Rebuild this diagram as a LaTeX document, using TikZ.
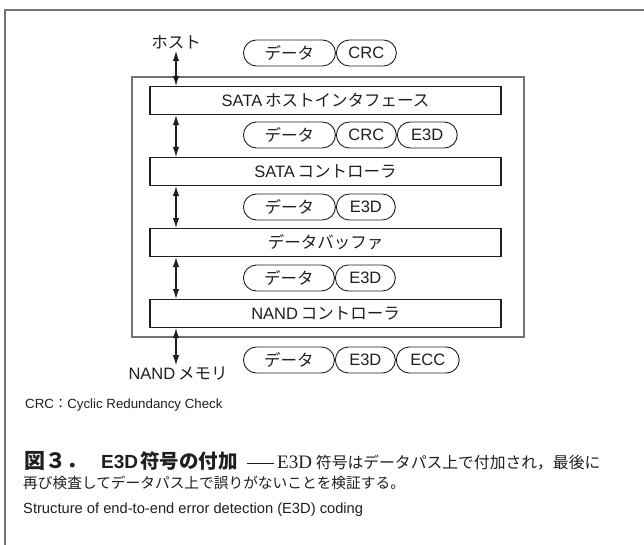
\documentclass[tikz,border=0pt]{standalone}
\usepackage{fontspec}
\setmainfont{Liberation Sans}
\newfontfamily\jp{Noto Sans CJK JP}
\newfontfamily\srf{Liberation Serif}
\usetikzlibrary{shapes.misc,arrows.meta}
\definecolor{framegray}{gray}{0.45}
\definecolor{inkc}{gray}{0.12}
\begin{document}
\begin{tikzpicture}[x=1pt,y=-1pt,
  lbl/.style={font=\fontsize{16.5}{17}\selectfont, inner sep=0pt, text=inkc},
  pill/.style={draw=inkc, rounded rectangle, minimum height=26pt, inner xsep=0pt, inner ysep=0pt,
     line width=0.9pt, anchor=west, font=\fontsize{16.5}{17}\selectfont, text=inkc},
  stagebox/.style={draw=inkc, rectangle, minimum width=351pt, minimum height=28pt, inner sep=0pt,
     line width=1.1pt, anchor=north, font=\fontsize{16.5}{17}\selectfont, text=inkc},
  dbl/.style={{Latex[length=10pt,width=6.5pt]}-{Latex[length=10pt,width=6.5pt]}, line width=1.2pt, draw=inkc},
  capt/.style={anchor=west, inner sep=0pt, text=inkc}
]
\useasboundingbox (0,0) rectangle (644,545);
% outer frame (top and left edges)
\draw[framegray, line width=1.2pt] (5,545) -- (5,10) -- (644,10);
% device frame
\draw[framegray, line width=1.1pt] (132,77) rectangle (524,337);

% labels at ends
\node[lbl] (host) at (176,42) {\jp ホスト};
\node[lbl] (nand) at (178,374) {NAND\,{\jp メモリ}};

% stages
\node[stagebox] (b1) at (325.5,86) {SATA\,{\jp ホストインタフェース}};
\node[stagebox] (b2) at (325.5,157) {SATA\,{\jp コントローラ}};
\node[stagebox] (b3) at (325.5,228) {\jp データバッファ};
\node[stagebox] (b4) at (325.5,299) {NAND\,{\jp コントローラ}};

% connectors
\draw[dbl] ([yshift=-2pt]host.south) -- (host.south |- b1.north);
\draw[dbl] (b1.south -| host) -- (b2.north -| host);
\draw[dbl] (b2.south -| host) -- (b3.north -| host);
\draw[dbl] (b3.south -| host) -- (b4.north -| host);
\draw[dbl] (b4.south -| host) -- ([yshift=2pt]host |- nand.north);

% data frames
\node[pill, minimum width=92pt] (r1a) at (243,53) {\jp データ};
\node[pill, minimum width=60pt] (r1b) at (r1a.east) {CRC};

\node[pill, minimum width=92pt] (r2a) at (243,135) {\jp データ};
\node[pill, minimum width=60pt] (r2b) at (r2a.east) {CRC};
\node[pill, minimum width=60pt] (r2c) at (r2b.east) {E3D};

\node[pill, minimum width=92pt] (r3a) at (243,207) {\jp データ};
\node[pill, minimum width=59pt] (r3b) at (r3a.east) {E3D};

\node[pill, minimum width=91pt] (r4a) at (243,278) {\jp データ};
\node[pill, minimum width=60pt] (r4b) at (r4a.east) {E3D};

\node[pill, minimum width=91pt] (r5a) at (243,360) {\jp データ};
\node[pill, minimum width=60pt] (r5b) at (r5a.east) {E3D};
\node[pill, minimum width=63pt] (r5c) at (r5b.east) {ECC};

% notes and caption
\node[capt, font=\fontsize{13.3}{14}\selectfont] (note) at (25,405) {CRC{\jp ：}Cyclic Redundancy Check};
\node[capt] (cap1) at (24,461)
  {{\fontsize{21}{21}\selectfont\jp\bfseries 図３．}\hspace{14pt}{\fontsize{19}{19}\selectfont\bfseries E3D}\hspace{2pt}{\fontsize{19.5}{19.5}\selectfont\jp\bfseries 符号の付加}\hspace{9.5pt}\rule[5pt]{27pt}{0.9pt}\hspace{3pt}{\fontsize{19}{19}\selectfont\srf E3D}\hspace{4pt}{\fontsize{15.8}{16}\selectfont\jp 符号はデータパス上で付加され，最後に}};
\node[capt, font=\fontsize{14.7}{16}\selectfont] (cap2) at (23,483)
  {\jp 再び検査してデータパス上で誤りがないことを検証する。};
\node[capt, font=\fontsize{14.7}{15}\selectfont] (cap3) at (23,510)
  {Structure of end-to-end error detection (E3D) coding};
\end{tikzpicture}
\end{document}
